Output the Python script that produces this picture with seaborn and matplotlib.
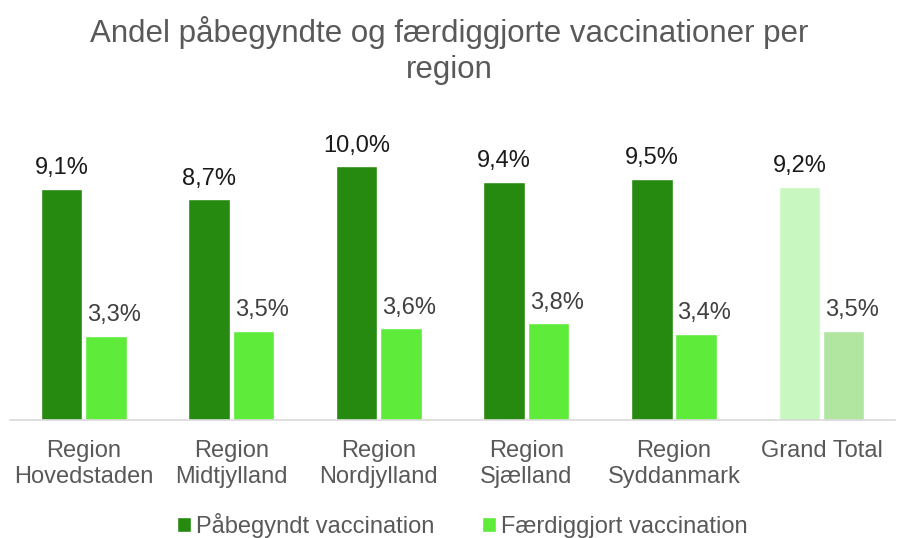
import pandas as pd
import seaborn as sns
import matplotlib.pyplot as plt

# Data
regions = ['Region\nHovedstaden', 'Region\nMidtjylland', 'Region\nNordjylland',
           'Region\nSjælland', 'Region\nSyddanmark', 'Grand Total']
started = [9.1, 8.7, 10.0, 9.4, 9.5, 9.2]
completed = [3.3, 3.5, 3.6, 3.8, 3.4, 3.5]
series = ['Påbegyndt vaccination', 'Færdiggjort vaccination']

df = pd.DataFrame({
    'region': regions * 2,
    'serie': [series[0]] * len(regions) + [series[1]] * len(regions),
    'value': started + completed,
})

sns.set_style('white')
plt.rcParams['font.family'] = ['Liberation Sans', 'DejaVu Sans']

grey = '#595959'
dark = '#278A10'
light = '#5EEB3A'

fig = plt.figure(figsize=(8.98, 5.38), dpi=100)
ax = fig.add_axes([0.011, 0.22, 0.986, 0.565])

sns.barplot(data=df, x='region', y='value', hue='serie', hue_order=series,
            palette=[dark, light], width=0.6, gap=0.06, ax=ax, saturation=1)

# Grand Total gets pale colours
for i, cont in enumerate(ax.containers):
    bar = cont.patches[-1]
    bar.set_facecolor('#C8F7C0' if i == 0 else '#B0E6A0')
    labels = [f'{v:.1f}%'.replace('.', ',') for v in (started if i == 0 else completed)]
    anns = ax.bar_label(cont, labels=labels, padding=7, fontsize=17,
                        color='#1a1a1a' if i == 0 else '#404040')
    if i == 1:
        # labels of the second series sit a bit to the right
        for a in anns:
            a.xyann = (6, 7)

ax.set_ylim(0, 12)
ax.set_xlabel('')
ax.set_ylabel('')
ax.set_yticks([])
ax.tick_params(axis='x', length=0, labelsize=17, labelcolor=grey, pad=15)
for s in ['top', 'right', 'left']:
    ax.spines[s].set_visible(False)
ax.spines['bottom'].set_color('#d9d9d9')
ax.spines['bottom'].set_linewidth(1.2)

fig.suptitle('Andel påbegyndte og færdiggjorte vaccinationer per\nregion',
             y=0.97, fontsize=22.5, color=grey, linespacing=1.25)

handles, lbls = ax.get_legend_handles_labels()
ax.legend(handles, lbls, loc='lower center', bbox_to_anchor=(0.511, -0.46),
          ncol=2, frameon=False, fontsize=17, labelcolor=grey,
          handlelength=0.6, handleheight=0.6, handletextpad=0.2, columnspacing=2.0)

plt.savefig('out.png', dpi=100)
